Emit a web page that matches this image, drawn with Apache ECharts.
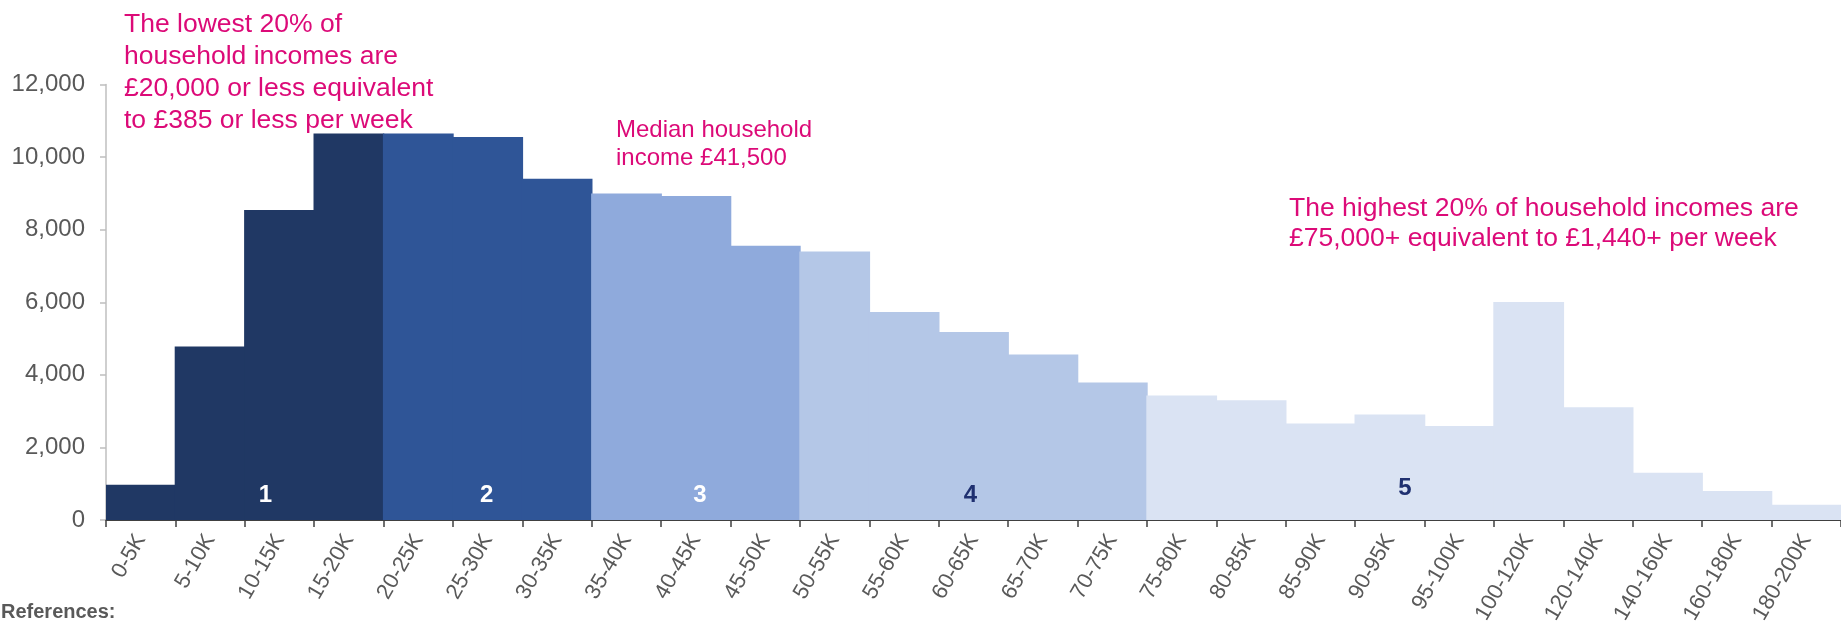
<!DOCTYPE html>
<html>
<head>
<meta charset="utf-8">
<script src="https://cdn.jsdelivr.net/npm/echarts@6/dist/echarts.min.js"></script>
<style>
  html, body { margin: 0; padding: 0; background: #ffffff; }
  #chart { width: 1841px; height: 621px; }
</style>
</head>
<body>
<div id="chart"></div>
<script>
// Household income bands (annual, £)
const incomeBands = [
  '0-5K', '5-10K', '10-15K', '15-20K', '20-25K', '25-30K', '30-35K',
  '35-40K', '40-45K', '45-50K', '50-55K', '55-60K', '60-65K', '65-70K',
  '70-75K', '75-80K', '80-85K', '85-90K', '90-95K', '95-100K',
  '100-120K', '120-140K', '140-160K', '160-180K', '180-200K'
];

// Number of households in each band
const households = [
  970, 4780, 8540, 10650, 10650, 10550, 9400,
  9000, 8930, 7560, 7400, 5730, 5180, 4560,
  3790, 3430, 3300, 2660, 2910, 2590,
  6010, 3110, 1300, 800, 420
];

// Income quintile each band belongs to
const bandQuintile = [
  1, 1, 1, 1, 2, 2, 2,
  3, 3, 3, 4, 4, 4, 4,
  4, 5, 5, 5, 5, 5,
  5, 5, 5, 5, 5
];

// Quintile numbers and the band each number is written in
const quintileNames = ['1', '2', '3', '4', '5'];
const quintileBands = ['10-15K', '25-30K', '40-45K', '60-65K', '90-95K'];

// Y-axis tick values
const yTicks = [0, 2000, 4000, 6000, 8000, 10000, 12000];

const quintileColors = { 1: '#203864', 2: '#2f5597', 3: '#8faadc', 4: '#b4c7e7', 5: '#dae3f3' };
const quintileTextColors = ['#ffffff', '#ffffff', '#ffffff', '#1f3070', '#1f3070'];
const quintileLabelOffsets = [[-14, 0], [-1, 0], [4, 0], [-3, 0], [15, -7]];
const quintileLabelLevel = 680;
const pink = '#dc0a78';
const font = 'Liberation Sans, Arial, sans-serif';

const chart = echarts.init(document.getElementById('chart'), null, { renderer: 'canvas' });

const option = {
  animation: false,
  backgroundColor: '#ffffff',
  grid: {
    left: 106, right: 0, top: 84.5, bottom: 101,
    containLabel: false,
    outerBoundsMode: 'none'
  },
  xAxis: {
    type: 'category',
    data: incomeBands,
    boundaryGap: true,
    axisLine: { show: true, lineStyle: { color: '#404040', width: 2 } },
    axisTick: { show: true, length: 7, lineStyle: { color: '#404040', width: 1.5 } },
    axisLabel: {
      interval: 0,
      rotate: 60,
      margin: 16,
      fontFamily: font,
      fontSize: 22,
      color: '#595959'
    }
  },
  yAxis: {
    type: 'value',
    min: yTicks[0],
    max: yTicks[yTicks.length - 1],
    interval: yTicks[1] - yTicks[0],
    axisLine: { show: true, lineStyle: { color: '#bfbfbf', width: 1.5 } },
    axisTick: { show: true, length: 6, lineStyle: { color: '#bfbfbf', width: 1.5 } },
    splitLine: { show: false },
    axisLabel: {
      margin: 21,
      fontFamily: font,
      fontSize: 24,
      color: '#595959',
      formatter: v => v.toLocaleString('en-US')
    }
  },
  series: [
    {
      type: 'bar',
      // slightly wider than the band so neighbouring bars join without seams
      barWidth: '102%',
      barGap: '0%',
      data: households.map((v, i) => ({
        value: v,
        itemStyle: { color: quintileColors[bandQuintile[i]] }
      })),
      markPoint: {
        symbol: 'circle',
        symbolSize: 0,
        silent: true,
        data: quintileNames.map((name, i) => ({
          name: name,
          coord: [quintileBands[i], quintileLabelLevel],
          label: {
            show: true,
            formatter: name,
            position: 'inside',
            offset: quintileLabelOffsets[i],
            color: quintileTextColors[i],
            fontFamily: font,
            fontWeight: 'bold',
            fontSize: 24
          }
        }))
      }
    }
  ],
  graphic: [
    {
      type: 'text',
      left: 124,
      top: 8.5,
      style: {
        text: 'The lowest 20% of\nhousehold incomes are\n£20,000 or less equivalent\nto £385 or less per week',
        fill: pink,
        fontFamily: font,
        fontSize: 26.5,
        lineHeight: 32
      }
    },
    {
      type: 'text',
      left: 616,
      top: 116.5,
      style: {
        text: 'Median household\nincome £41,500',
        fill: pink,
        fontFamily: font,
        fontSize: 24,
        lineHeight: 28
      }
    },
    {
      type: 'text',
      left: 1289,
      top: 194,
      style: {
        text: 'The highest 20% of household incomes are\n£75,000+ equivalent to £1,440+ per week',
        fill: pink,
        fontFamily: font,
        fontSize: 26.5,
        lineHeight: 30
      }
    },
    {
      type: 'text',
      left: 1,
      top: 602,
      style: {
        text: 'References:',
        fill: '#595959',
        fontFamily: font,
        fontWeight: 'bold',
        fontSize: 20
      }
    }
  ]
};

chart.setOption(option);
</script>
</body>
</html>
